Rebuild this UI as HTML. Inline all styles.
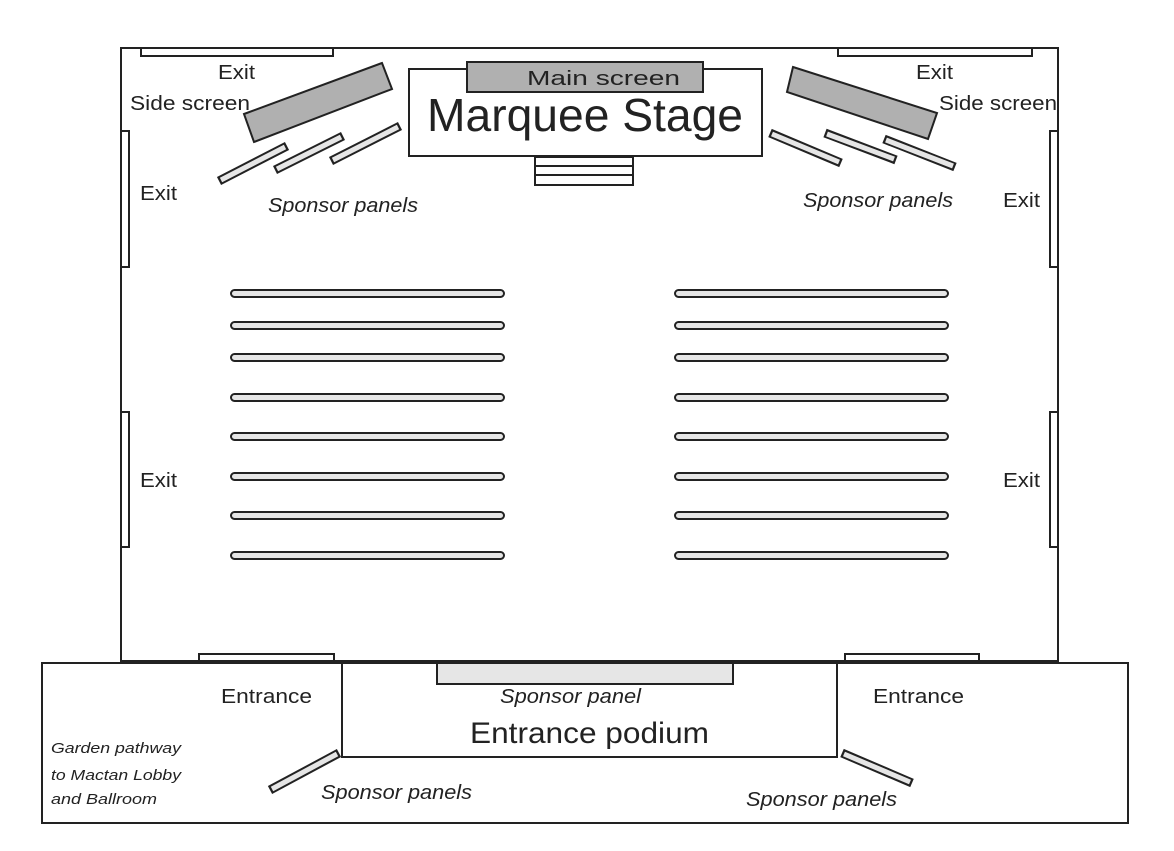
<!DOCTYPE html>
<html><head><meta charset="utf-8"><style>
html,body{margin:0;padding:0;background:#fff;}
svg{display:block;}
text{font-family:"Liberation Sans",sans-serif;fill:#222;}
</style></head><body>
<svg width="1174" height="851" viewBox="0 0 1174 851" xmlns="http://www.w3.org/2000/svg">
<g stroke="#222" stroke-width="2" fill="#fff">
<rect x="121" y="48" width="937" height="613"/>
<rect x="42" y="663" width="1086" height="160"/>
<rect x="342" y="663" width="495" height="94"/>
<rect x="437" y="663" width="296" height="21" fill="#e6e6e6"/>
<rect x="141" y="48" width="192" height="8"/>
<rect x="838" y="48" width="194" height="8"/>
<rect x="121" y="131" width="8" height="136"/>
<rect x="121" y="412" width="8" height="135"/>
<rect x="1050" y="131" width="8" height="136"/>
<rect x="1050" y="412" width="8" height="135"/>
<rect x="199" y="654" width="135" height="7"/>
<rect x="845" y="654" width="134" height="7"/>
<rect x="409" y="69" width="353" height="87"/>
<rect x="467" y="62" width="236" height="30" fill="#b0b0b0"/>
<rect x="535" y="157" width="98" height="9"/>
<rect x="535" y="166" width="98" height="9"/>
<rect x="535" y="175" width="98" height="10"/>
<polygon points="244,114 382,63 392,89 254,142" fill="#b0b0b0"/>
<polygon points="793,67 937,113 928,139 787,92" fill="#b0b0b0"/>
</g>
<g stroke-linecap="butt">
<g stroke="#222" stroke-width="9">
<line x1="219" y1="181" x2="287" y2="146"/>
<line x1="275" y1="170" x2="343" y2="136"/>
<line x1="331" y1="161" x2="400" y2="126"/>
<line x1="770" y1="133" x2="841" y2="163"/>
<line x1="825" y1="133" x2="896" y2="160"/>
<line x1="884" y1="139" x2="955" y2="167"/>
<line x1="270" y1="790" x2="339" y2="753"/>
<line x1="842" y1="753" x2="912" y2="783"/>
</g>
<g stroke="#e6e6e6" stroke-width="5">
<line x1="221" y1="180" x2="285" y2="147"/>
<line x1="277" y1="169" x2="341" y2="137"/>
<line x1="333" y1="160" x2="398" y2="127"/>
<line x1="772" y1="134" x2="839" y2="162"/>
<line x1="827" y1="134" x2="894" y2="159"/>
<line x1="886" y1="140" x2="953" y2="166"/>
<line x1="272" y1="789" x2="337" y2="754"/>
<line x1="844" y1="754" x2="910" y2="782"/>
</g>
</g>
<g stroke="#222" stroke-width="2" fill="#e6e6e6">
<rect x="231" y="290" width="273" height="7" rx="3.5"/>
<rect x="231" y="322" width="273" height="7" rx="3.5"/>
<rect x="231" y="354" width="273" height="7" rx="3.5"/>
<rect x="231" y="394" width="273" height="7" rx="3.5"/>
<rect x="231" y="433" width="273" height="7" rx="3.5"/>
<rect x="231" y="473" width="273" height="7" rx="3.5"/>
<rect x="231" y="512" width="273" height="7" rx="3.5"/>
<rect x="231" y="552" width="273" height="7" rx="3.5"/>
<rect x="675" y="290" width="273" height="7" rx="3.5"/>
<rect x="675" y="322" width="273" height="7" rx="3.5"/>
<rect x="675" y="354" width="273" height="7" rx="3.5"/>
<rect x="675" y="394" width="273" height="7" rx="3.5"/>
<rect x="675" y="433" width="273" height="7" rx="3.5"/>
<rect x="675" y="473" width="273" height="7" rx="3.5"/>
<rect x="675" y="512" width="273" height="7" rx="3.5"/>
<rect x="675" y="552" width="273" height="7" rx="3.5"/>
</g>
<g font-size="20" lengthAdjust="spacingAndGlyphs">
<text x="218" y="79" textLength="37" lengthAdjust="spacingAndGlyphs">Exit</text>
<text x="916" y="79" textLength="37" lengthAdjust="spacingAndGlyphs">Exit</text>
<text x="130" y="110" textLength="120" lengthAdjust="spacingAndGlyphs">Side screen</text>
<text x="939" y="110" textLength="118" lengthAdjust="spacingAndGlyphs">Side screen</text>
<text x="140" y="200" textLength="37" lengthAdjust="spacingAndGlyphs">Exit</text>
<text x="1003" y="207" textLength="37" lengthAdjust="spacingAndGlyphs">Exit</text>
<text x="140" y="487" textLength="37" lengthAdjust="spacingAndGlyphs">Exit</text>
<text x="1003" y="487" textLength="37" lengthAdjust="spacingAndGlyphs">Exit</text>
<text x="221" y="703" textLength="91" lengthAdjust="spacingAndGlyphs">Entrance</text>
<text x="873" y="703" textLength="91" lengthAdjust="spacingAndGlyphs">Entrance</text>
<text x="527" y="85" textLength="153" lengthAdjust="spacingAndGlyphs">Main screen</text>
</g>
<text x="427" y="131" font-size="46" textLength="316" lengthAdjust="spacingAndGlyphs">Marquee Stage</text>
<text x="470" y="743" font-size="30" textLength="239" lengthAdjust="spacingAndGlyphs">Entrance podium</text>
<g font-size="20" font-style="italic">
<text x="268" y="212" textLength="150" lengthAdjust="spacingAndGlyphs">Sponsor panels</text>
<text x="803" y="207" textLength="150" lengthAdjust="spacingAndGlyphs">Sponsor panels</text>
<text x="500" y="703" textLength="141" lengthAdjust="spacingAndGlyphs">Sponsor panel</text>
<text x="321" y="799" textLength="151" lengthAdjust="spacingAndGlyphs">Sponsor panels</text>
<text x="746" y="806" textLength="151" lengthAdjust="spacingAndGlyphs">Sponsor panels</text>
</g>
<g font-size="15" font-style="italic">
<text x="51" y="753" textLength="130" lengthAdjust="spacingAndGlyphs">Garden pathway</text>
<text x="51" y="780" textLength="130" lengthAdjust="spacingAndGlyphs">to Mactan Lobby</text>
<text x="51" y="804" textLength="106" lengthAdjust="spacingAndGlyphs">and Ballroom</text>
</g>
</svg>
</body></html>
